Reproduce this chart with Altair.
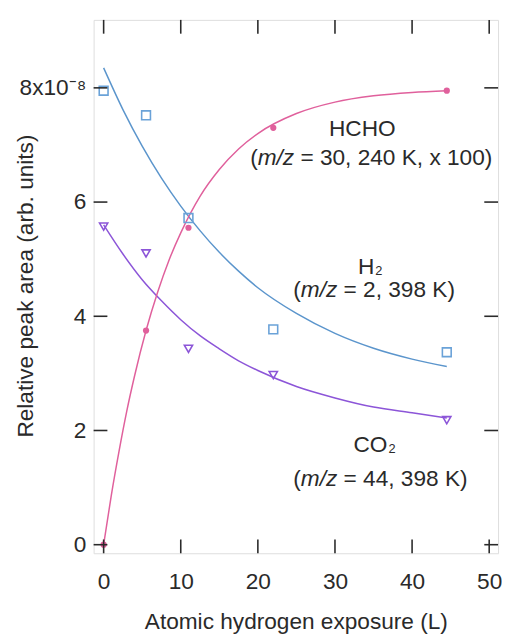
import altair as alt
import pandas as pd

# ---- data ----
exposure = [0, 5.5, 11, 22, 44.5]
hcho = [0.0, 3.75, 5.55, 7.30, 7.95]
h2 = [7.95, 7.52, 5.72, 3.77, 3.37]
co2 = [5.57, 5.10, 3.43, 2.97, 2.18]

fit_x = [0, 2.5, 5, 7.5, 10, 12.5, 15, 17.5, 20, 25, 30, 35, 40, 44.5]
h2_fit = [8.35, 7.62, 6.98, 6.42, 5.93, 5.50, 5.12, 4.79, 4.50, 4.05, 3.70, 3.44, 3.25, 3.12]
co2_fit = [5.60, 5.09, 4.64, 4.27, 3.94, 3.66, 3.43, 3.22, 3.05, 2.77, 2.57, 2.41, 2.31, 2.22]
hcho_fit_x = [0, 1, 2, 3, 4, 5.5, 7, 8.5, 10, 12.5, 15, 17.5, 20, 25, 30, 35, 40, 44.5]
hcho_fit = [0.0, 0.87, 1.64, 2.34, 2.95, 3.75, 4.42, 4.99, 5.46, 6.10, 6.57, 6.93, 7.20, 7.55, 7.75, 7.86, 7.92, 7.95]

x_ticks = [0, 10, 20, 30, 40, 50]
y_ticks = [0, 2, 4, 6, 8]

PINK = "#e0609c"
BLUE = "#5b95cc"
BLUE_PT = "#6aa2d8"
PURPLE = "#8c55d8"
INK = "#2a2a2a"
FONT = "Liberation Sans"
FS = 23

W, H = 411, 542
xscale = alt.Scale(domain=[-1.3, 51.15], nice=False, zero=False)
yscale = alt.Scale(domain=[-0.15, 9.19], nice=False, zero=False)

xaxis = alt.Axis(values=x_ticks, ticks=False, domain=False, grid=False,
                 labelFontSize=FS, labelPadding=18, labelColor=INK, labelFont=FONT,
                 title="Atomic hydrogen exposure (L)", titleFontSize=FS, titleFont=FONT,
                 titleFontWeight="normal", titleColor=INK, titlePadding=17)
yaxis = alt.Axis(values=y_ticks, ticks=False, domain=False, grid=False,
                 labelFontSize=FS, labelPadding=8, labelColor=INK, labelFont=FONT,
                 labelExpr="datum.value == 8 ? '8x10\u207b\u2078' : datum.label",
                 title="Relative peak area (arb. units)", titleFontSize=FS, titleFont=FONT,
                 titleFontWeight="normal", titleColor=INK, titleX=-69, titleY=270,
                 titleBaseline="middle", titleAlign="center")


def X(f):
    return alt.X(f, type="quantitative", scale=xscale, axis=xaxis)


def Y(f):
    return alt.Y(f, type="quantitative", scale=yscale, axis=yaxis)


pts = pd.DataFrame({"x": exposure, "hcho": hcho, "h2": h2, "co2": co2})
fit = pd.DataFrame({"x": fit_x, "h2": h2_fit, "co2": co2_fit})
fit_h = pd.DataFrame({"x": hcho_fit_x, "hcho": hcho_fit})

line_h2 = alt.Chart(fit).mark_line(interpolate="monotone", strokeWidth=1.5, color=BLUE).encode(x=X("x"), y=Y("h2"))
line_co2 = alt.Chart(fit).mark_line(interpolate="monotone", strokeWidth=1.5, color=PURPLE).encode(x=X("x"), y=Y("co2"))
line_hcho = alt.Chart(fit_h).mark_line(interpolate="monotone", strokeWidth=1.5, color=PINK).encode(x=X("x"), y=Y("hcho"))

pt_h2 = alt.Chart(pts).mark_point(shape="square", filled=False, size=80, strokeWidth=1.6, color=BLUE_PT, opacity=1).encode(x=X("x"), y=Y("h2"))
pt_co2 = alt.Chart(pts).mark_point(shape="triangle-down", filled=False, size=70, strokeWidth=1.6, color=PURPLE, opacity=1).encode(x=X("x"), y=Y("co2"))
pt_hcho = alt.Chart(pts).mark_circle(size=40, color=PINK, opacity=1).encode(x=X("x"), y=Y("hcho"))

# inner ticks on all four sides
xt = pd.DataFrame({"t": x_ticks})
yt = pd.DataFrame({"t": y_ticks})
TL = 14
tick_style = dict(color=INK, strokeWidth=1.6)
tb = alt.Chart(xt).mark_rule(**tick_style).encode(x=X("t"), y=alt.value(H), y2=alt.value(H - TL))
tt = alt.Chart(xt).mark_rule(**tick_style).encode(x=X("t"), y=alt.value(0), y2=alt.value(TL))
tl = alt.Chart(yt).mark_rule(**tick_style).encode(y=Y("t"), x=alt.value(0), x2=alt.value(TL))
tr = alt.Chart(yt).mark_rule(**tick_style).encode(y=Y("t"), x=alt.value(W), x2=alt.value(W - TL))

# annotations
WID = {"(": 0.333, ")": 0.333, "m": 0.833, "/": 0.278, "z": 0.5, " ": 0.278, "=": 0.584,
       ",": 0.278, "K": 0.667, "x": 0.5, "H": 0.722, "C": 0.722, "O": 0.778}


def tw(s, fs=FS):
    return sum(WID.get(c, 0.556) for c in s) * fs


def text_layer(x, y, s, align="left", dx=0, dy=0, fs=FS, style="normal"):
    df = pd.DataFrame({"x": [x], "y": [y], "s": [s]})
    return alt.Chart(df).mark_text(align=align, baseline="middle", dx=dx, dy=dy, fontSize=fs,
                                   font=FONT, fontStyle=style, color=INK).encode(
        x=X("x"), y=Y("y"), text="s:N")


def mz_line(x, y, rest):
    a = "("
    b = "m/z"
    return [text_layer(x, y, a),
            text_layer(x, y, b, dx=tw(a), style="italic"),
            text_layer(x, y, rest, dx=tw(a) + tw(b) + tw(" "))]


ann = []
ann.append(text_layer(33.55, 7.28, "HCHO", align="center"))
ann += mz_line(19.0, 6.77, "= 30, 240 K, x 100)")
ann.append(text_layer(35.1, 4.86, "H", align="right"))
ann.append(text_layer(35.1, 4.86, "2", align="left", dx=1, dy=4, fs=13))
ann += mz_line(24.6, 4.46, "= 2, 398 K)")
ann.append(text_layer(36.8, 1.74, "CO", align="right"))
ann.append(text_layer(36.8, 1.74, "2", align="left", dx=1, dy=4, fs=13))
ann += mz_line(24.6, 1.15, "= 44, 398 K)")

chart = alt.layer(line_h2, line_co2, line_hcho, pt_h2, pt_co2, pt_hcho,
                  tb, tt, tl, tr, *ann).properties(
    width=W, height=H,
    autosize=alt.AutoSizeParams(type="none"),
    padding={"left": 87, "top": 7, "right": 4, "bottom": 80},
    background="white",
).configure_view(stroke=INK, strokeWidth=2).configure(font=FONT)

chart.save("out.html", embed_options={"renderer": "svg", "actions": False})
